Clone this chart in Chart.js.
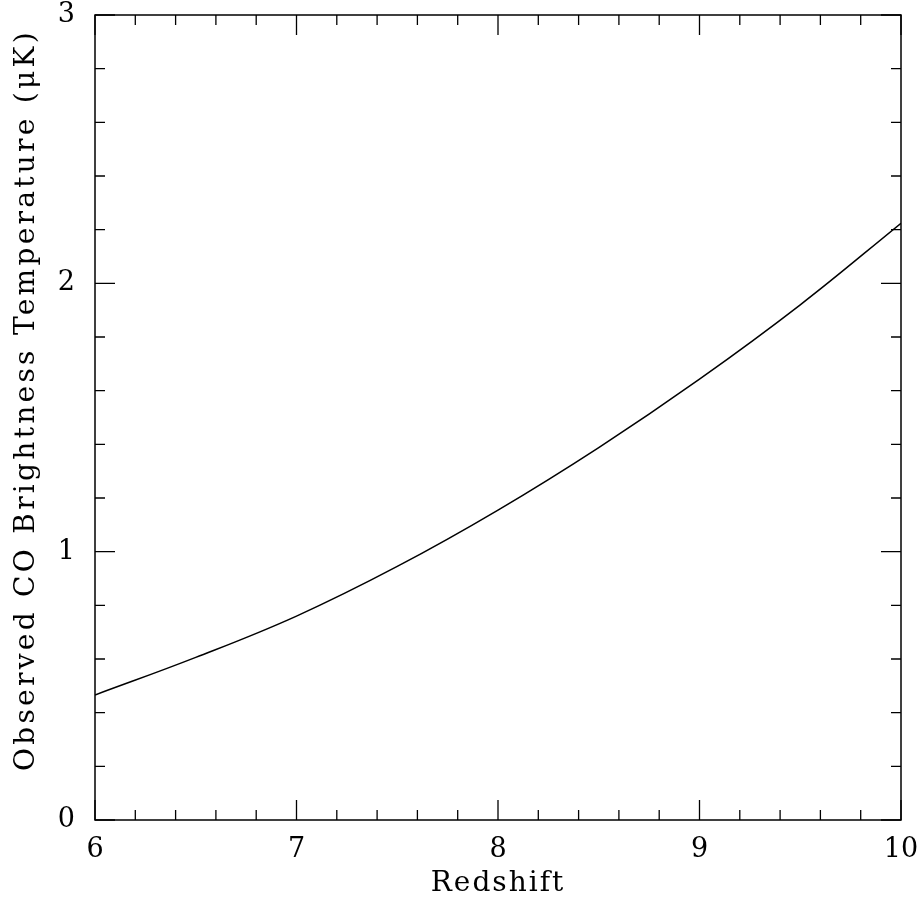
<!DOCTYPE html>
<html>
<head>
<meta charset="utf-8">
<script src="https://cdn.jsdelivr.net/npm/chart.js@4.4.0/dist/chart.umd.min.js"></script>
<style>
  html, body { margin: 0; padding: 0; background: #fff; }
  #wrap { width: 922px; height: 904px; }
</style>
</head>
<body>
<div id="wrap"><canvas id="coChart"></canvas></div>
<script>
// ============================
// Data
// ============================
const redshift = [6.0, 6.5, 7.0, 7.5, 8.0, 8.5, 9.0, 9.5, 10.0];
const brightnessTemp = [0.466, 0.606, 0.760, 0.945, 1.155, 1.388, 1.643, 1.920, 2.224];

const xMajorTicks = [6, 7, 8, 9, 10];
const yMajorTicks = [0, 1, 2, 3];
const minorStep = 0.2;

const xTitle = "Redshift";
const yTitle = "Observed CO Brightness Temperature (\u03bcK)";

const fontFamily = "'DejaVu Serif', 'Liberation Serif', serif";

// ============================
// Plugin: frame, inward ticks on all four sides, axis titles
// ============================
const frameTicks = {
    id: "frameTicks",
    afterDraw(chart) {
        const { ctx, chartArea: a, scales } = chart;
        const xs = scales.x, ys = scales.y;
        ctx.save();
        ctx.strokeStyle = "#000";
        ctx.lineWidth = 1.5;
        ctx.strokeRect(a.left, a.top, a.right - a.left, a.bottom - a.top);

        ctx.lineWidth = 1.3;
        ctx.beginPath();
        // x ticks, bottom and top
        for (let v = xs.min; v <= xs.max + 1e-6; v += minorStep) {
            const major = xMajorTicks.some(t => Math.abs(t - v) < 1e-6);
            const len = major ? 20 : 10;
            const px = xs.getPixelForValue(v);
            ctx.moveTo(px, a.bottom); ctx.lineTo(px, a.bottom - len);
            ctx.moveTo(px, a.top); ctx.lineTo(px, a.top + len);
        }
        // y ticks, left and right
        for (let v = ys.min; v <= ys.max + 1e-6; v += minorStep) {
            const major = yMajorTicks.some(t => Math.abs(t - v) < 1e-6);
            const len = major ? 20 : 10;
            const py = ys.getPixelForValue(v);
            ctx.moveTo(a.left, py); ctx.lineTo(a.left + len, py);
            ctx.moveTo(a.right, py); ctx.lineTo(a.right - len, py);
        }
        ctx.stroke();

        // axis titles
        ctx.fillStyle = "#000";
        ctx.font = "28px " + fontFamily;
        ctx.textAlign = "center";
        ctx.textBaseline = "middle";
        ctx.letterSpacing = "2px";
        ctx.fillText(xTitle, (a.left + a.right) / 2, 884);
        ctx.letterSpacing = "3.3px";
        ctx.translate(27, 400);
        ctx.rotate(-Math.PI / 2);
        ctx.fillText(yTitle, 0, 0);
        ctx.restore();
    }
};

// ============================
// Chart
// ============================
const ctx = document.getElementById("coChart").getContext("2d");
new Chart(ctx, {
    type: "line",
    data: {
        datasets: [{
            data: redshift.map((z, i) => ({ x: z, y: brightnessTemp[i] })),
            borderColor: "#000",
            borderWidth: 1.5,
            pointRadius: 0,
            fill: false,
            tension: 0.4
        }]
    },
    options: {
        responsive: true,
        maintainAspectRatio: false,
        animation: false,
        layout: { padding: { left: 0, top: 15, right: 21, bottom: 0 } },
        plugins: { legend: { display: false }, tooltip: { enabled: false } },
        scales: {
            x: {
                type: "linear",
                min: 6, max: 10,
                grid: { display: false, drawTicks: false },
                border: { display: false },
                afterFit: s => { s.height = 84; s.paddingLeft = 0; s.paddingRight = 0; },
                afterBuildTicks: s => { s.ticks = xMajorTicks.map(v => ({ value: v })); },
                ticks: {
                    color: "#000",
                    padding: 14,
                    maxRotation: 0,
                    font: { family: fontFamily, size: 27 }
                }
            },
            y: {
                min: 0, max: 3,
                grid: { display: false, drawTicks: false },
                border: { display: false },
                afterFit: s => { s.width = 95; s.paddingTop = 0; s.paddingBottom = 0; },
                afterBuildTicks: s => { s.ticks = yMajorTicks.map(v => ({ value: v })); },
                ticks: {
                    color: "#000",
                    padding: 20,
                    font: { family: fontFamily, size: 27 }
                }
            }
        }
    },
    plugins: [frameTicks]
});
</script>
</body>
</html>
